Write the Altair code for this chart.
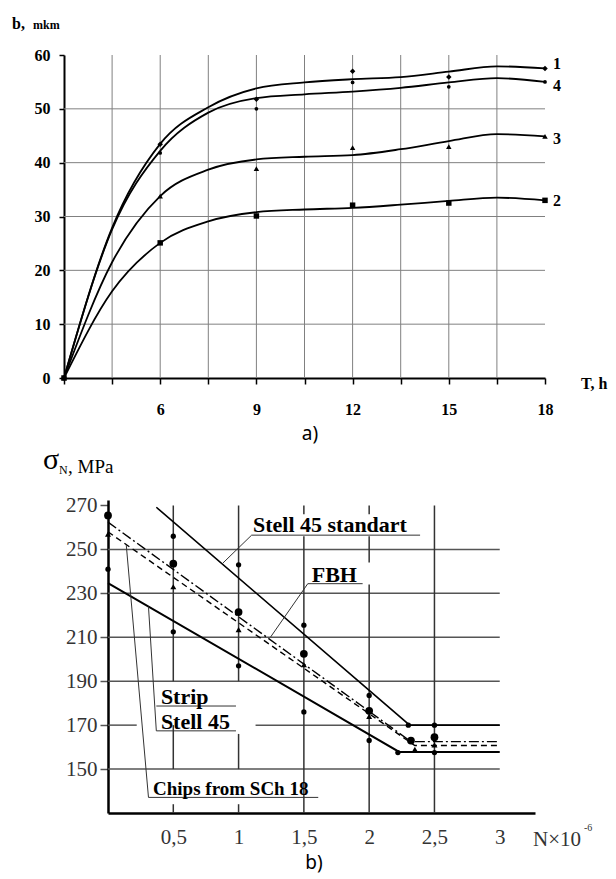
import altair as alt
import pandas as pd

# ---------------- Panel a data ----------------
a_T = [3, 4.5, 6, 7.5, 9, 10.5, 12, 13.5, 15, 16.5, 18]
a_c1 = [0, 27.9, 43.5, 50.3, 53.8, 54.9, 55.5, 55.9, 56.9, 57.9, 57.5]
a_c4 = [0, 27.6, 42.2, 49.3, 52.0, 52.7, 53.2, 53.9, 54.9, 55.7, 55.0]
a_c3 = [0, 21.5, 33.8, 38.7, 40.6, 41.1, 41.4, 42.5, 44.0, 45.3, 44.9]
a_c2 = [0, 16.1, 25.1, 29.1, 30.8, 31.3, 31.6, 32.2, 32.9, 33.5, 33.0]

a_mT = [3, 6, 9, 12, 15, 18]
a_m1 = [0, 43.4, 51.8, 57.0, 55.9, 57.5]
a_m4 = [0, 41.8, 50.0, 54.9, 54.1, 55.0]
a_m3 = [0, 33.8, 38.9, 42.8, 43.0, 44.9]
a_m2 = [0, 25.1, 30.1, 32.1, 32.5, 33.0]

a_names = ["1", "4", "3", "2"]
a_label_y = [58.3, 54.2, 44.4, 32.9]

a_xticks = [3, 4.5, 6, 7.5, 9, 10.5, 12, 13.5, 15, 16.5, 18]
a_yticks = [0, 10, 20, 30, 40, 50, 60]
a_vgrid = [4.5, 6, 7.5, 9, 10.5, 12, 13.5, 15, 16.5]
a_hgrid = [10, 20, 30, 40, 50]

# ---------------- Panel b data ----------------
b_std_x = [0.37, 2.31, 3.0]
b_std_y = [269.2, 170.0, 170.0]
b_fbh_x = [0.0, 2.32, 3.0]
b_fbh_y = [262.4, 162.5, 162.5]
b_chips_x = [0.0, 2.35, 3.0]
b_chips_y = [258.0, 160.7, 160.7]
b_strip_x = [0.0, 2.23, 3.0]
b_strip_y = [234.7, 157.8, 157.8]

b_small_x = [0, 0.5, 0.5, 1, 1, 1.5, 1.5, 2, 2, 2.3, 2.22, 2.5, 2.5]
b_small_y = [241, 256, 212.5, 243, 197, 215.5, 176, 183.5, 163, 170, 157.5, 170, 157.5]
b_big_x = [0, 0.5, 1, 1.5, 2, 2.32, 2.5]
b_big_y = [265.5, 243.5, 221.5, 202.5, 176.5, 163, 164.5]
b_tri_x = [0, 0.5, 1, 1.5, 2, 2.35, 2.5]
b_tri_y = [257, 233, 213.5, 197.5, 174, 159, 161]

b_xticks = [0.5, 1, 1.5, 2, 2.5, 3]
b_yticks = [150, 170, 190, 210, 230, 250, 270]

b_hgrid_y = [250, 230, 210, 190, 170, 170, 150]
b_hgrid_x1 = [0, 0, 0, 0, 0, 1.13, 0]
b_hgrid_x2 = [3, 3, 3, 3, 0.22, 3, 3]

b_vgrid_x = [0.5, 0.5, 0.5, 1, 1, 1, 1.5, 1.5, 2, 2, 2, 2.5]
b_vgrid_y1 = [270, 170, 134, 270, 166, 134, 270, 256, 270, 256, 234, 270]
b_vgrid_y2 = [190, 150, 130, 190, 150, 130, 266, 130, 266, 244, 130, 130]

# leader lines (polylines)
b_lead_id = [1, 1, 1, 2, 2, 2, 3, 3, 3, 4, 4, 5, 5, 5]
b_lead_x = [0.88, 1.10, 2.39, 1.245, 1.53, 1.95, 0.31, 0.37, 0.98, 0.37, 0.98, 0.14, 0.31, 1.61]
b_lead_y = [243.8, 256.5, 256.5, 210.1, 234.4, 234.4, 224, 167.4, 167.4, 178.7, 178.7, 252, 137.1, 137.1]

b_lab_text = ["Stell 45 standart", "FBH", "Strip", "Stell 45", "Chips from SCh 18"]
b_lab_x = [1.11, 1.56, 0.405, 0.405, 0.345]
b_lab_y = [261.0, 238.3, 182.8, 171.4, 141.0]
b_lab_size = [22, 22, 22, 22, 19]

SERIF = "Liberation Serif"

# ---------------- Panel a ----------------
WA, HA = 481, 323
xa_scale = alt.Scale(domain=[3, 18], nice=False, zero=False)
ya_scale = alt.Scale(domain=[0, 60], nice=False)
axis_ax = alt.Axis(values=a_xticks,
                   labelExpr="datum.value % 3 == 0 && datum.value > 3 ? datum.label : ''",
                   grid=False, domainColor="black", domainWidth=2, tickColor="black",
                   tickSize=6, tickWidth=1.5, labelFont=SERIF, labelFontWeight="bold",
                   labelFontSize=16, labelColor="black", labelPadding=17,
                   labelFlush=False, labelOverlap=False, title=None)
axis_ay = alt.Axis(values=a_yticks, grid=False, domainColor="black", domainWidth=2,
                   tickColor="black", tickSize=5, tickWidth=1.5, labelFont=SERIF,
                   labelFontWeight="bold", labelFontSize=16, labelColor="black",
                   labelPadding=9, labelFlush=False, labelOverlap=False, title=None)
XA = alt.X("T:Q", scale=xa_scale, axis=axis_ax)
YA = alt.Y("b:Q", scale=ya_scale, axis=axis_ay)

a_lines_df = pd.DataFrame({
    "T": a_T * 4,
    "b": a_c1 + a_c4 + a_c3 + a_c2,
    "curve": ["1"] * len(a_T) + ["4"] * len(a_T) + ["3"] * len(a_T) + ["2"] * len(a_T),
})
a_lab_df = pd.DataFrame({"T": [18] * 4, "b": a_label_y, "curve": a_names})

a_vg = alt.Chart(pd.DataFrame({"T": a_vgrid})).mark_rule(color="#808080", strokeWidth=1).encode(x=XA)
a_hg = alt.Chart(pd.DataFrame({"b": a_hgrid})).mark_rule(color="#808080", strokeWidth=1).encode(y=YA)
a_ln = alt.Chart(a_lines_df).mark_line(color="black", strokeWidth=1.8, interpolate="monotone").encode(
    x=XA, y=YA, detail="curve:N")

a_pts = []
for ys, shp, sz in [(a_m1, "diamond", 30), (a_m4, "circle", 14),
                    (a_m3, "triangle-up", 30), (a_m2, "square", 30)]:
    a_pts.append(alt.Chart(pd.DataFrame({"T": a_mT, "b": ys})).mark_point(
        filled=True, color="black", opacity=1, shape=shp, size=sz).encode(x=XA, y=YA))

a_lb = alt.Chart(a_lab_df).mark_text(font=SERIF, fontWeight="bold", fontSize=16, align="left",
                                     baseline="middle", dx=8, color="black").encode(
    x=XA, y=YA, text="curve:N")


def ptxt(s, x, y, size, weight="normal", font=SERIF, align="left", baseline="middle", color="black"):
    return alt.Chart(pd.DataFrame({"t": [s]})).mark_text(
        font=font, fontSize=size, fontWeight=weight, align=align, baseline=baseline, color=color
    ).encode(x=alt.value(x), y=alt.value(y), text="t:N")


a_texts = [
    ptxt("b,", -52, -31, 16, "bold"),
    ptxt("mkm", -31, -30, 12, "bold"),
    ptxt("T, h", 517, 329, 16, "bold"),
    ptxt("a)", 246, 379, 19, font="Noto Sans", align="center"),
]

panel_a = alt.layer(a_vg, a_hg, a_ln, *a_pts, a_lb, *a_texts).properties(width=WA, height=HA)

# ---------------- Panel b ----------------
WB, HB = 427, 313
xb_scale = alt.Scale(domain=[0, 3.27], nice=False, zero=False)
yb_scale = alt.Scale(domain=[130, 272.5], nice=False, zero=False)
axis_bx = alt.Axis(values=b_xticks, format=".1~f", labelExpr="replace(datum.label, '.', ',')",
                   grid=False, ticks=False, tickSize=0, domainColor="black", domainWidth=2.5,
                   labelFont=SERIF, labelFontSize=21, labelColor="#333333", labelPadding=13,
                   labelFlush=False, labelOverlap=False, title=None)
axis_by = alt.Axis(values=b_yticks, grid=False, domainColor="black", domainWidth=2.5,
                   tickColor="#555555", tickSize=8, tickWidth=1.5, labelFont=SERIF,
                   labelFontSize=21, labelColor="#333333", labelPadding=3,
                   labelFlush=False, labelOverlap=False, title=None)
XB = alt.X("N:Q", scale=xb_scale, axis=axis_bx)
YB = alt.Y("s:Q", scale=yb_scale, axis=axis_by)

b_hg = alt.Chart(pd.DataFrame({"s": b_hgrid_y, "N": b_hgrid_x1, "N2": b_hgrid_x2})).mark_rule(
    color="#555555", strokeWidth=1.5).encode(x=XB, x2="N2:Q", y=YB)
b_vg = alt.Chart(pd.DataFrame({"N": b_vgrid_x, "s": b_vgrid_y1, "s2": b_vgrid_y2})).mark_rule(
    color="#333333", strokeWidth=1.5).encode(x=XB, y=YB, y2="s2:Q")

b_lines = []
for xs, ys, dash, w in [
    (b_std_x, b_std_y, None, 1.6),
    (b_fbh_x, b_fbh_y, [10, 3, 2, 3], 1.4),
    (b_chips_x, b_chips_y, [6, 4], 1.4),
    (b_strip_x, b_strip_y, None, 2.0),
]:
    kw = dict(color="black", strokeWidth=w)
    if dash:
        kw["strokeDash"] = dash
    b_lines.append(alt.Chart(pd.DataFrame({"N": xs, "s": ys})).mark_line(**kw).encode(x=XB, y=YB))

b_lead = alt.Chart(pd.DataFrame({"id": b_lead_id, "N": b_lead_x, "s": b_lead_y,
                                 "i": list(range(len(b_lead_x)))})).mark_line(
    color="#333333", strokeWidth=1).encode(x=XB, y=YB, detail="id:N", order="i:Q")

b_sm = alt.Chart(pd.DataFrame({"N": b_small_x, "s": b_small_y})).mark_point(
    filled=True, color="black", opacity=1, size=28, shape="circle").encode(x=XB, y=YB)
b_bg = alt.Chart(pd.DataFrame({"N": b_big_x, "s": b_big_y})).mark_point(
    filled=True, color="black", opacity=1, size=60, shape="circle").encode(x=XB, y=YB)
b_tr = alt.Chart(pd.DataFrame({"N": b_tri_x, "s": b_tri_y})).mark_point(
    filled=True, color="black", opacity=1, size=36, shape="triangle-up").encode(x=XB, y=YB)

b_lab = alt.Chart(pd.DataFrame({"N": b_lab_x, "s": b_lab_y, "t": b_lab_text, "fs": b_lab_size})).mark_text(
    font=SERIF, fontWeight="bold", align="left", baseline="middle", color="black").encode(
    x=XB, y=YB, text="t:N", size=alt.Size("fs:Q", scale=None, legend=None))

b_texts = [
    ptxt("σ", -65, -31, 30, baseline="alphabetic"),
    ptxt("N", -49, -26, 12, baseline="alphabetic"),
    ptxt(", MPa", -40, -27.5, 19, baseline="alphabetic"),
    ptxt("N×10", 425, 340, 21, color="#333333"),
    ptxt("-6", 476, 328, 10, color="#333333"),
    ptxt("b)", 206, 363, 19, font="Noto Sans", align="center"),
]

panel_b = alt.layer(b_hg, b_vg, *b_lines, b_lead, b_sm, b_bg, b_tr, b_lab, *b_texts).properties(
    width=WB, height=HB)

spacer = alt.Chart(pd.DataFrame({"z": [0]})).mark_point(opacity=0).encode(
    x=alt.X("z:Q", axis=None), y=alt.Y("z:Q", axis=None)).properties(width=44, height=10)

bottom = alt.hconcat(spacer, panel_b, spacing=0, bounds="flush")

chart = alt.vconcat(panel_a, bottom, spacing=122, bounds="flush").properties(
    padding={"left": 4, "top": 8, "right": 0, "bottom": 6}
).configure_view(stroke=None)

chart.save("out.html", embed_options={"renderer": "svg", "actions": False})
